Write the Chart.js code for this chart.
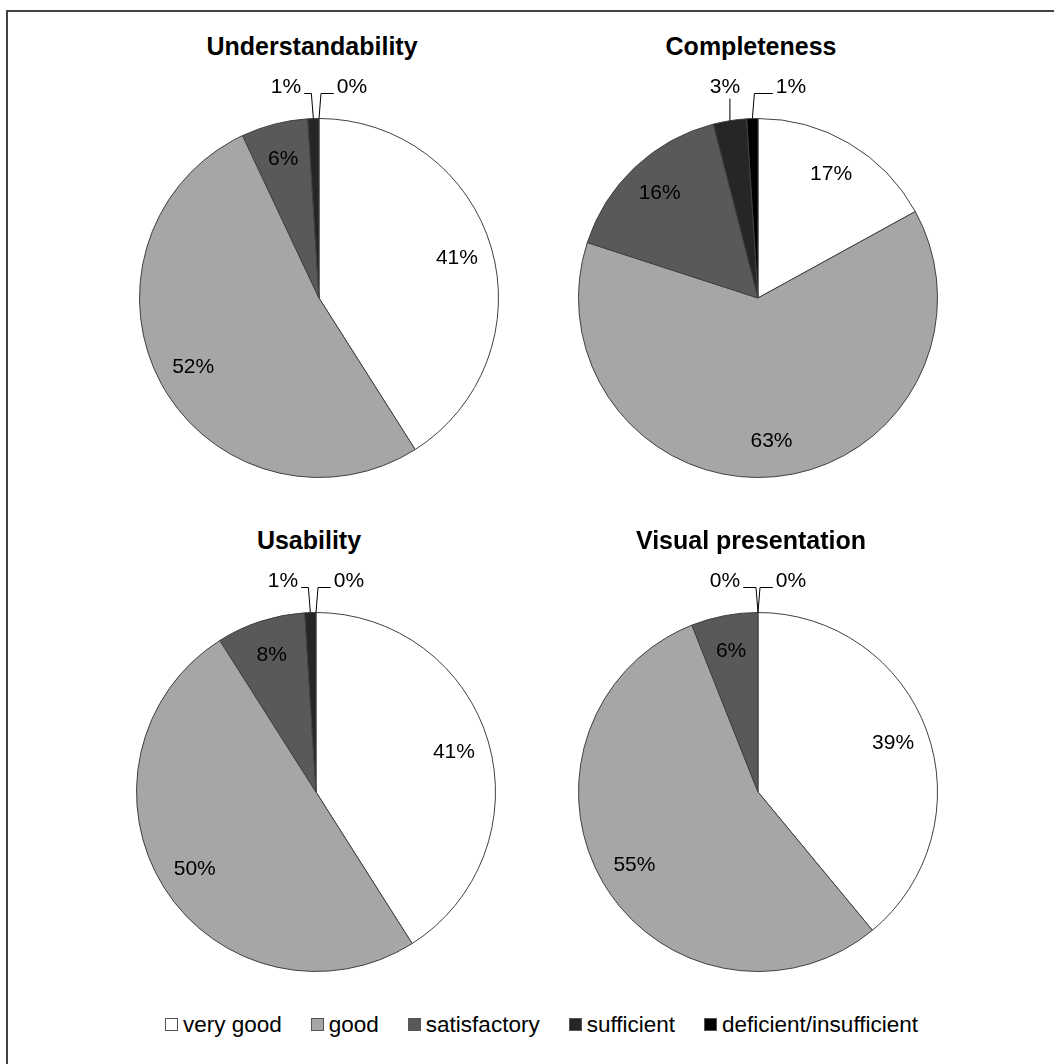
<!DOCTYPE html>
<html>
<head>
<meta charset="utf-8">
<script src="https://cdn.jsdelivr.net/npm/chart.js@4"></script>
<style>
  body { margin: 0; background: #fff; font-family: "Liberation Sans", Arial, sans-serif; overflow: hidden; }
  #frame { position: absolute; left: 6px; top: 10px; width: 1200px; height: 1200px;
           border-top: 2px solid #444; border-left: 2px solid #444; }
  .pie { position: absolute; }
  .title { position: absolute; font-weight: bold; font-size: 25px; color: #000;
           transform: translate(-50%, -50%); white-space: nowrap; }
  #legend { position: absolute; top: 1012px; left: 0; width: 1083px; text-align: center;
            font-size: 22.5px; color: #000; white-space: nowrap; }
  .item { display: inline-block; margin: 0 14.5px; }
  .mark { display: inline-block; width: 11px; height: 11px; border: 1px solid #555;
          margin-right: 5px; vertical-align: 1px; }
</style>
</head>
<body>
<div id="frame"></div>
<div id="legend"></div>

<script>
// 데이터
const categories = ["very good", "good", "satisfactory", "sufficient", "deficient/insufficient"];
const chartTitles = ["Understandability", "Completeness", "Usability", "Visual presentation"];
const understandability = [41, 52, 6, 1, 0];
const completeness = [17, 63, 16, 3, 1];
const usability = [41, 50, 8, 1, 0];
const visualPresentation = [39, 55, 6, 0, 0];

const colors = ["#ffffff", "#a6a6a6", "#595959", "#262626", "#000000"];
const allValues = [understandability, completeness, usability, visualPresentation];

// 파이 중심 위치
const centers = [[319, 298], [758, 298], [316, 792], [758, 792]];
const pad = 40, size = 440;

// 라벨 그리기 (안쪽 / 바깥 지시선)
const pieLabels = {
  id: "pieLabels",
  afterDatasetsDraw(chart) {
    const ctx = chart.ctx;
    const arcs = chart.getDatasetMeta(0).data;
    const vals = chart.data.datasets[0].data;
    ctx.save();
    ctx.font = "21px 'Liberation Sans', Arial, sans-serif";
    ctx.fillStyle = "#000";
    ctx.strokeStyle = "#000";
    ctx.lineWidth = 1;
    ctx.textBaseline = "middle";
    ctx.textAlign = "center";
    const small = [];
    arcs.forEach((arc, i) => {
      const p = arc.getProps(["x", "y", "startAngle", "endAngle", "outerRadius"], true);
      const mid = (p.startAngle + p.endAngle) / 2;
      const text = vals[i] + "%";
      if (vals[i] < 4) {
        small.push({ p, mid, text });
        return;
      }
      const r = p.outerRadius * 0.8;
      ctx.fillText(text, p.x + r * Math.cos(mid), p.y + r * Math.sin(mid));
    });
    small.forEach((s, k) => {
      const { x, y, outerRadius: R } = s.p;
      const ex = x + R * Math.cos(s.mid);
      const ey = y + R * Math.sin(s.mid);
      const left = small.length > 1 && k === 0;
      const w = ctx.measureText(s.text).width;
      const nx = x + (R + 30) * Math.cos(s.mid);
      const lx = left ? Math.min(nx, x - 33) : Math.max(nx, x + 33);
      const ly = y - R - 31;
      ctx.beginPath();
      ctx.moveTo(ex, ey);
      const near = left ? lx + w / 2 + 3 : lx - w / 2 - 3;
      if ((left && near > ex) || (!left && near < ex)) {
        ctx.lineTo(ex, ly + 11);
      } else {
        ctx.lineTo(ex + (left ? -2 : 2), ly + 6);
        ctx.lineTo(near, ly + 6);
      }
      ctx.stroke();
      ctx.fillText(s.text, lx, ly);
    });
    ctx.restore();
  }
};

allValues.forEach((vals, idx) => {
  const [cx, cy] = centers[idx];
  const cv = document.createElement("canvas");
  cv.className = "pie";
  cv.width = size;
  cv.height = size;
  cv.style.left = (cx - size / 2) + "px";
  cv.style.top = (cy - size / 2) + "px";
  document.body.appendChild(cv);

  const t = document.createElement("div");
  t.className = "title";
  t.textContent = chartTitles[idx];
  t.style.left = (cx - 7) + "px";
  t.style.top = (cy - 252) + "px";
  document.body.appendChild(t);

  new Chart(cv.getContext("2d"), {
    type: "pie",
    data: {
      labels: categories,
      datasets: [{
        data: vals,
        backgroundColor: colors,
        borderColor: "#404040",
        borderWidth: 1
      }]
    },
    options: {
      responsive: false,
      animation: false,
      layout: { padding: pad },
      plugins: { legend: { display: false }, tooltip: { enabled: false } }
    },
    plugins: [pieLabels]
  });
});

// 범례
const legend = document.getElementById("legend");
categories.forEach((c, i) => {
  const item = document.createElement("span");
  item.className = "item";
  const m = document.createElement("span");
  m.className = "mark";
  m.style.background = colors[i];
  item.appendChild(m);
  item.appendChild(document.createTextNode(c));
  legend.appendChild(item);
});
</script>
</body>
</html>
